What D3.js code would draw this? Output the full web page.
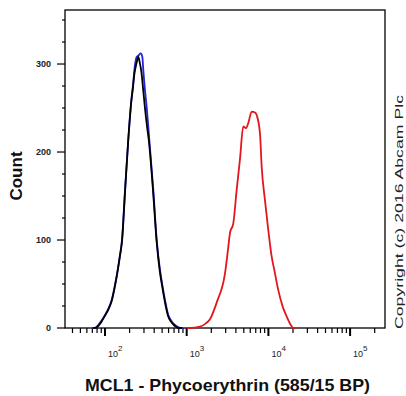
<!DOCTYPE html>
<html><head><meta charset="utf-8">
<script src="https://cdn.jsdelivr.net/npm/d3@7"></script>
<style>body{margin:0;background:#fff}svg{display:block}text{font-family:"Liberation Sans",Arial,sans-serif}</style>
</head><body>
<script>
// Data (intensity on log axis, event count)
const blueI = [70, 75.5, 82.8, 90, 100, 110, 120.8, 132, 143, 152, 161.5, 176, 192.8, 212.5, 218.3, 232.9, 244.3, 258, 273.6, 286.6, 294.4, 309, 323.9, 338.9, 348.6, 390, 429.6, 471, 505, 542, 595, 650, 719, 828, 900];
const blueC = [0, 0, 3.4, 8, 14.8, 22, 31.8, 48, 66, 82, 100, 157, 213.6, 263, 272.7, 299, 308, 310, 312, 308, 293, 270, 251, 229, 214, 157, 100, 66, 48, 31.8, 14.8, 8, 3.4, 0, 0];
const blackI = [72, 78, 84, 91, 100, 110, 121, 132, 143, 152, 162, 176, 192, 210, 218, 230, 242, 256, 266, 280, 294, 310, 328, 345, 388, 428, 468, 502, 538, 590, 645, 710, 800, 880];
const blackC = [0, 0.5, 3, 7.5, 14, 21, 31, 47, 65, 81, 100, 155, 212, 258, 270, 290, 300, 308, 302, 290, 270, 248, 228, 212, 155, 99, 65, 47, 31, 14, 7, 2.5, 0, 0];
const redI = [1000, 1097, 1456, 1700, 1928, 2350, 2943, 3229, 3389, 3719, 4090, 4489, 4928, 5320, 5675, 6250, 6858, 7190, 7890, 8280, 9080, 9980, 10970, 11810, 13210, 15000, 16750, 18900, 20180, 22000];
const redC = [0, 0, 1.5, 5, 10, 30, 62, 92, 108, 119, 157, 192, 229, 227, 233, 246, 245, 242, 221, 183, 145, 111, 81, 66, 43, 24, 13, 3, 0, 0];
const xMajorTicks = [100, 1000, 10000, 100000];
const xTickExp = ["2", "3", "4", "5"];
const yMajorTicks = [0, 100, 200, 300];
const xTitle = "MCL1 - Phycoerythrin (585/15 BP)";
const yTitle = "Count";
const copyright = "Copyright (c) 2016 Abcam Plc";

const W = 406, H = 396;
const L = 65, R = 385, T = 10, B = 328;
const svg = d3.select("body").append("svg").attr("width", W).attr("height", H);
const x = d3.scaleLog().domain([32.4, 267400]).range([L, R]);
const y = d3.scaleLinear().domain([0, 361.4]).range([B, T]);

// minor ticks
const xMinor = [];
for (let e = 1; e <= 5; e++) for (let m = 1; m <= 9; m++) { const v = m * Math.pow(10, e); if (v >= 32.4 && v <= 267400) xMinor.push(v); }
const yMinor = d3.range(0, 361, 25);

const g = svg.append("g");
g.selectAll(".xt").data(xMinor).join("line")
  .attr("x1", d => x(d)).attr("x2", d => x(d)).attr("y1", B)
  .attr("y2", d => xMajorTicks.includes(d) ? B + 8 : B + 5)
  .attr("stroke", "#000").attr("stroke-width", d => xMajorTicks.includes(d) ? 2 : 1.2);
g.selectAll(".yt").data(yMinor).join("line")
  .attr("y1", d => y(d)).attr("y2", d => y(d)).attr("x1", L)
  .attr("x2", d => yMajorTicks.includes(d) ? L - 8 : L - 3)
  .attr("stroke", "#000").attr("stroke-width", 1.2);

// frame
svg.append("rect").attr("x", L).attr("y", T).attr("width", R - L).attr("height", B - T)
  .attr("fill", "none").attr("stroke", "#000").attr("stroke-width", 1.3);

// y labels
svg.selectAll(".yl").data(yMajorTicks).join("text")
  .attr("x", L - 14).attr("y", d => y(d) + 3)
  .attr("text-anchor", "end").attr("font-size", 9).attr("font-weight", "bold").attr("fill", "#222")
  .text(d => d);

// x labels
const xl = svg.selectAll(".xl").data(xMajorTicks).join("text")
  .attr("x", d => x(d) + 3).attr("y", 357)
  .attr("font-size", 9).attr("fill", "#222");
xl.append("tspan").text("10");
xl.append("tspan").attr("dy", -6).attr("font-size", 8).text((d, i) => xTickExp[i]);

// curves
const line = d3.line().x(d => x(d[0])).y(d => y(d[1])).curve(d3.curveMonotoneX);
const series = [
  { I: blueI, C: blueC, color: "#2424d8" },
  { I: blackI, C: blackC, color: "#000000" },
  { I: redI, C: redC, color: "#e3161d" }
];
svg.append("g").selectAll("path").data(series).join("path")
  .attr("d", s => line(s.I.map((v, i) => [v, s.C[i]])))
  .attr("fill", "none").attr("stroke", s => s.color).attr("stroke-width", 1.8)
  .attr("stroke-linejoin", "round");

// titles
svg.append("text").attr("x", 227.5).attr("y", 391).attr("text-anchor", "middle")
  .attr("font-size", 16.5).attr("font-weight", "bold").attr("fill", "#111")
  .attr("textLength", 285).attr("lengthAdjust", "spacingAndGlyphs").text(xTitle);
svg.append("text").attr("transform", "translate(22,176) rotate(-90)").attr("text-anchor", "middle")
  .attr("font-size", 17).attr("font-weight", "bold").attr("fill", "#111").text(yTitle);
svg.append("text").attr("transform", "translate(403,212) rotate(-90)").attr("text-anchor", "middle")
  .attr("font-size", 11).attr("fill", "#222")
  .attr("textLength", 234).attr("lengthAdjust", "spacingAndGlyphs").text(copyright);
</script>
</body></html>
